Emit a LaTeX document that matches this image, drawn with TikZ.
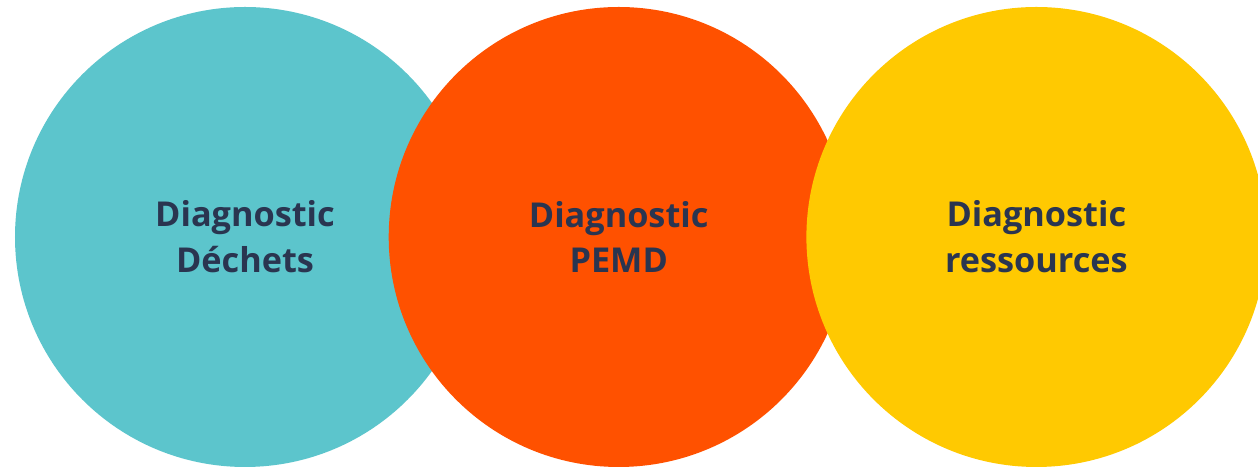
\documentclass[tikz,border=0pt]{standalone}
\usepackage{fontspec}
\setmainfont{Open Sans}
\usetikzlibrary{positioning}

\definecolor{dechetsteal}{HTML}{5CC5CC}
\definecolor{pemdorange}{HTML}{FF5100}
\definecolor{ressyellow}{HTML}{FFC901}
\definecolor{labelnavy}{HTML}{2A3550}

\begin{document}
\begin{tikzpicture}[
    node distance = 1cm, % overridden per node
    bubble/.style = {
        circle,
        minimum size = 9.2cm,
        inner sep = 0pt,
        align = center,
        text = labelnavy,
        font = \fontsize{19.5}{26}\selectfont\bfseries
    }
    ]

    \clip (0,0) rectangle (25.16,9.42);
    \fill[white] (0,0) rectangle (25.16,9.42);

    \node[bubble, fill = dechetsteal] (dechets) at (4.9,4.68) {Diagnostic\\Déchets};
    \node[bubble, fill = pemdorange] (pemd) [right = -1.74cm of dechets] {Diagnostic\\PEMD};
    \node[bubble, fill = ressyellow] (ressources) [right = -0.86cm of pemd] {Diagnostic\\ressources};
\end{tikzpicture}
\end{document}
